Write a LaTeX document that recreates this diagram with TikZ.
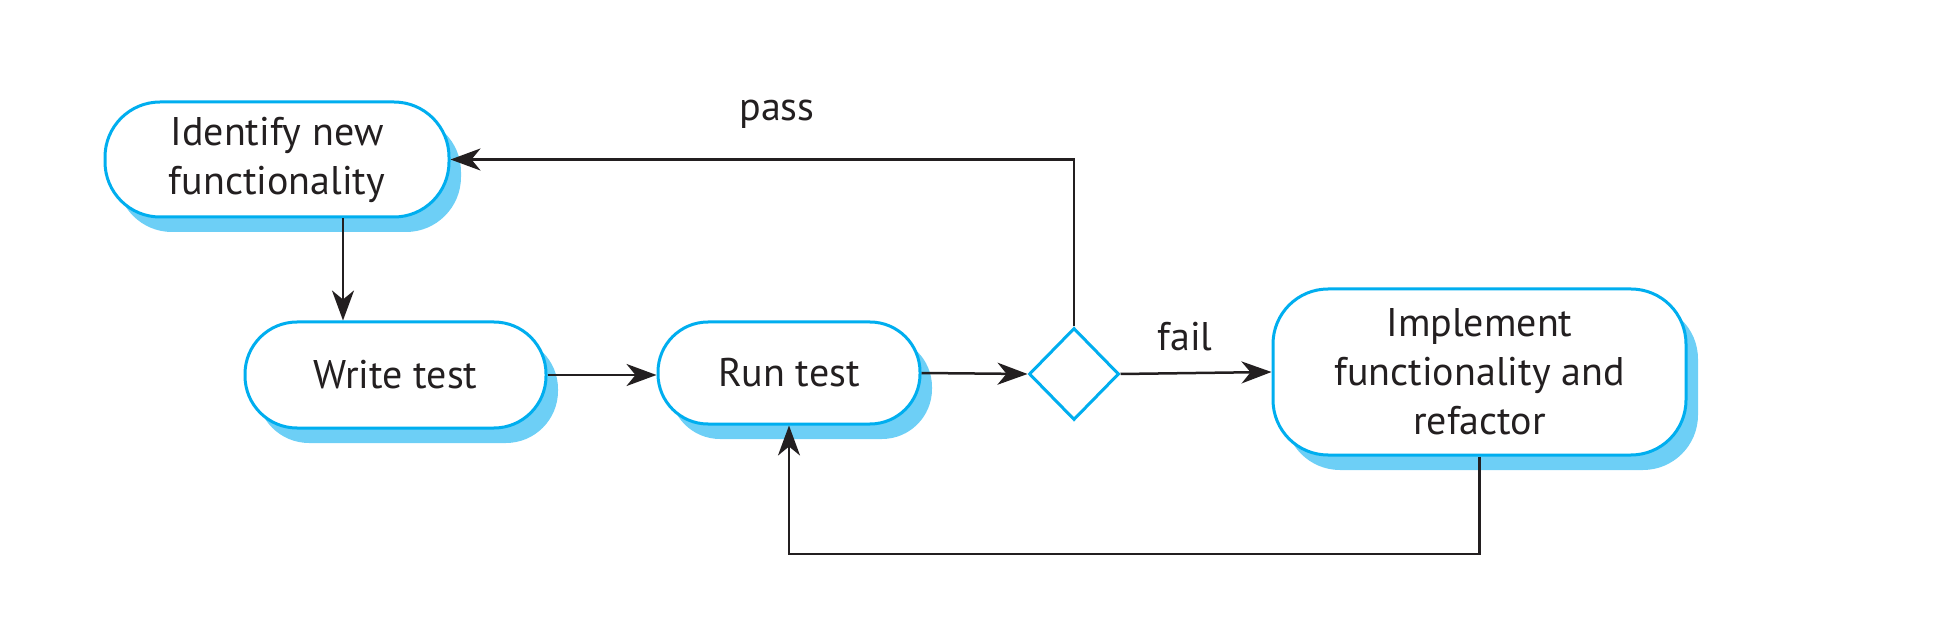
\documentclass[tikz,border=0pt]{standalone}
\usepackage{fontspec}
\setmainfont{PT Sans}
\usetikzlibrary{shapes.geometric,shadows,arrows.meta,calc}
\definecolor{lineblue}{HTML}{00AEEF}
\definecolor{shadowblue}{HTML}{6DCFF6}
\definecolor{ink}{HTML}{231F20}
\begin{document}
\begin{tikzpicture}[x=1pt,y=1pt,
  every node/.style={font=\fontsize{40}{49}\selectfont, text=ink},
  act/.style={draw=lineblue, line width=3pt, fill=white, align=center, inner sep=0pt,
    drop shadow={shadow xshift=12pt, shadow yshift=-15pt, fill=shadowblue, opacity=1}},
  dec/.style={diamond, draw=lineblue, line width=3pt, fill=white, inner sep=0pt,
    minimum width=90pt, minimum height=92pt},
  arr/.style={draw=ink, line width=2.5pt, -{Stealth[length=30pt,width=22pt,inset=9pt]}},
  lbl/.style={inner sep=0pt}]
\useasboundingbox (0,0) rectangle (1944,630);
\node[act, rounded corners=55pt, minimum width=344pt, minimum height=115pt] (ident) at (277,470.5) {Identify new\\functionality};
\node[act, rounded corners=52pt, minimum width=301pt, minimum height=106pt] (write) at (395.5,255) {Write test};
\node[act, rounded corners=50pt, minimum width=262pt, minimum height=102pt] (run) at (789,257) {Run test};
\node[dec] (dia) at (1074,256) {};
\node[act, rounded corners=55pt, minimum width=413pt, minimum height=166pt] (impl) at (1479.5,258) {Implement\\functionality and\\refactor};
\coordinate (cx) at (343,0);
\coordinate (low) at (0,76);
\draw[arr] (ident.south -| cx) -- (write.north -| cx);
\draw[arr] (write.east) -- (write.east -| run.west);
\draw[arr] (run.east) -- (dia.west);
\draw[arr] (dia.east) -- (impl.west);
\draw[arr] (dia.north) |- (ident.east);
\draw[arr] (impl.south) -- (impl.south |- low) -| (run.south);
\node[lbl] (pass) at (777,516) {pass};
\node[lbl] (fail) at (1185,293) {fail};
\end{tikzpicture}
\end{document}
